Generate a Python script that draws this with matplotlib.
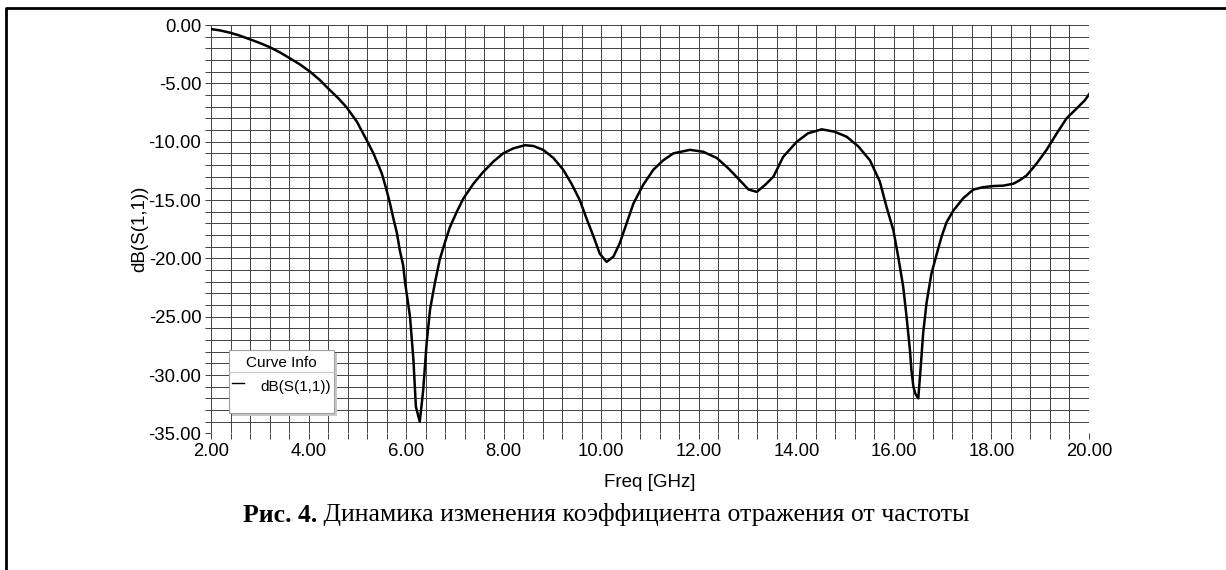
import numpy as np
import matplotlib.pyplot as plt
from matplotlib.patches import Rectangle
from matplotlib.lines import Line2D

# S11
freq_ghz = [2.00, 2.18, 2.39, 2.59, 2.80, 3.00, 3.21, 3.41, 3.62, 3.82,
            4.03, 4.23, 4.40, 4.61, 4.78, 4.99, 5.19, 5.33, 5.50, 5.59,
            5.67, 5.74, 5.81, 5.87, 5.94, 5.98, 6.08, 6.15, 6.20, 6.28,
            6.35, 6.42, 6.49, 6.59, 6.69, 6.79, 6.90, 7.04, 7.17, 7.38,
            7.58, 7.79, 7.99, 8.20, 8.44, 8.61, 8.81, 9.02, 9.22, 9.39,
            9.56, 9.70, 9.84, 9.97, 10.11, 10.25, 10.38, 10.52, 10.66, 10.86,
            11.07, 11.27, 11.48, 11.82, 12.09, 12.37, 12.61, 12.84, 13.02, 13.19,
            13.36, 13.53, 13.73, 14.01, 14.24, 14.52, 14.78, 15.03, 15.27, 15.51,
            15.71, 15.85, 15.99, 16.09, 16.19, 16.26, 16.33, 16.36, 16.40, 16.44,
            16.50, 16.55, 16.60, 16.67, 16.77, 16.88, 16.98, 17.08, 17.22, 17.42,
            17.63, 17.83, 18.04, 18.24, 18.45, 18.58, 18.72, 18.93, 19.13, 19.34,
            19.54, 19.75, 19.92, 20.00]
s11_db = [-0.35, -0.46, -0.66, -0.91, -1.23, -1.54, -1.91, -2.34, -2.86, -3.37,
          -4.00, -4.71, -5.43, -6.28, -7.06, -8.28, -9.86, -11.0, -12.7, -14.0,
          -15.3, -16.6, -17.8, -19.3, -20.6, -22.1, -25.0, -28.7, -32.7, -34.0,
          -31.3, -27.3, -24.4, -22.1, -20.1, -18.7, -17.3, -16.0, -14.9, -13.6,
          -12.6, -11.7, -11.0, -10.57, -10.3, -10.37, -10.7, -11.4, -12.4, -13.6,
          -15.0, -16.6, -18.1, -19.6, -20.3, -19.85, -18.7, -17.0, -15.3, -13.7,
          -12.4, -11.6, -11.0, -10.7, -10.86, -11.4, -12.3, -13.3, -14.1, -14.3,
          -13.7, -13.0, -11.3, -10.0, -9.28, -8.94, -9.14, -9.57, -10.4, -11.6,
          -13.4, -15.6, -17.6, -19.9, -22.4, -25.0, -27.9, -29.6, -31.0, -31.6,
          -32.0, -29.3, -26.4, -23.8, -21.3, -19.6, -18.1, -16.9, -15.9, -14.85,
          -14.1, -13.9, -13.8, -13.77, -13.6, -13.3, -12.9, -11.85, -10.7, -9.28,
          -8.0, -7.14, -6.43, -5.94]

x_major = [2, 4, 6, 8, 10, 12, 14, 16, 18, 20]
y_major = [0, -5, -10, -15, -20, -25, -30, -35]

plt.rcParams['font.family'] = ['Liberation Sans', 'DejaVu Sans']

W, H = 1226, 570
fig = plt.figure(figsize=(W / 100, H / 100), dpi=100)
ax = fig.add_axes([211 / W, 1 - 433.4 / H, (1089 - 211) / W, (433.4 - 25) / H])

grid_c = '#404040'
ax.plot(freq_ghz, s11_db, color='black', linewidth=1.8, zorder=3)

ax.set_xlim(2, 20)
ax.set_ylim(-35, 0)
ax.set_xticks(x_major)
ax.set_xticklabels([f"{v:.2f}" for v in x_major])
ax.set_yticks(y_major)
ax.set_yticklabels([f"{v:.2f}" for v in y_major])
ax.set_xticks(np.arange(2, 20.01, 0.4), minor=True)
ax.set_yticks(np.arange(-35, 0.01, 1), minor=True)
ax.grid(which='both', color=grid_c, linewidth=0.7)
ax.tick_params(which='both', direction='out', length=4, width=0.7, color=grid_c,
               labelsize=13.3, pad=3)
for s in ax.spines.values():
    s.set_visible(False)

ax.set_xlabel("Freq [GHz]", fontsize=13.5, labelpad=10)
ax.set_ylabel("dB(S(1,1))", fontsize=13.5, labelpad=0)

# "Curve Info" legend box, placed in pixel coordinates of the figure
def fx(px):
    return px / W

def fy(py):
    return 1 - py / H

fig.patches.append(Rectangle((fx(232), fy(416)), fx(105), 63.5 / H,
                             transform=fig.transFigure, facecolor='#c8c8c8',
                             edgecolor='none', zorder=5))
fig.patches.append(Rectangle((fx(229), fy(413)), fx(105), 63.5 / H,
                             transform=fig.transFigure, facecolor='white',
                             edgecolor='#a0a0a0', linewidth=0.8, zorder=6))
fig.lines.append(Line2D([fx(229), fx(334)], [fy(371.5), fy(371.5)],
                        transform=fig.transFigure, color='#c8c8c8', lw=0.8, zorder=7))
fig.text(fx(281.5), fy(363), "Curve Info", fontsize=11, ha='center', va='center', zorder=7)
fig.lines.append(Line2D([fx(232), fx(244)], [fy(383), fy(383)],
                        transform=fig.transFigure, color='black', lw=1.0, zorder=7))
fig.text(fx(260.5), fy(386.5), "dB(S(1,1))", fontsize=11, ha='left', va='center', zorder=7)

# page frame (top and left edges)
fig.lines.append(Line2D([fx(6), fx(6), fx(1226)], [0, fy(8), fy(8)],
                        transform=fig.transFigure, color='black', lw=2.0))

# caption with bold prefix
fig.canvas.draw()
r = fig.canvas.get_renderer()
bold = fig.text(0, fy(515), "Рис. 4.", fontsize=18.5, fontweight='bold',
                family='Liberation Serif', ha='left', va='center')
rest = fig.text(0, fy(515), " Динамика изменения коэффициента отражения от частоты",
                fontsize=18.5, family='Liberation Serif', ha='left', va='center')
wb = bold.get_window_extent(r).width
wr = rest.get_window_extent(r).width
x0 = 606 - (wb + wr) / 2
bold.set_x(x0 / W)
rest.set_x((x0 + wb) / W)

fig.savefig("out.png", dpi=100)
